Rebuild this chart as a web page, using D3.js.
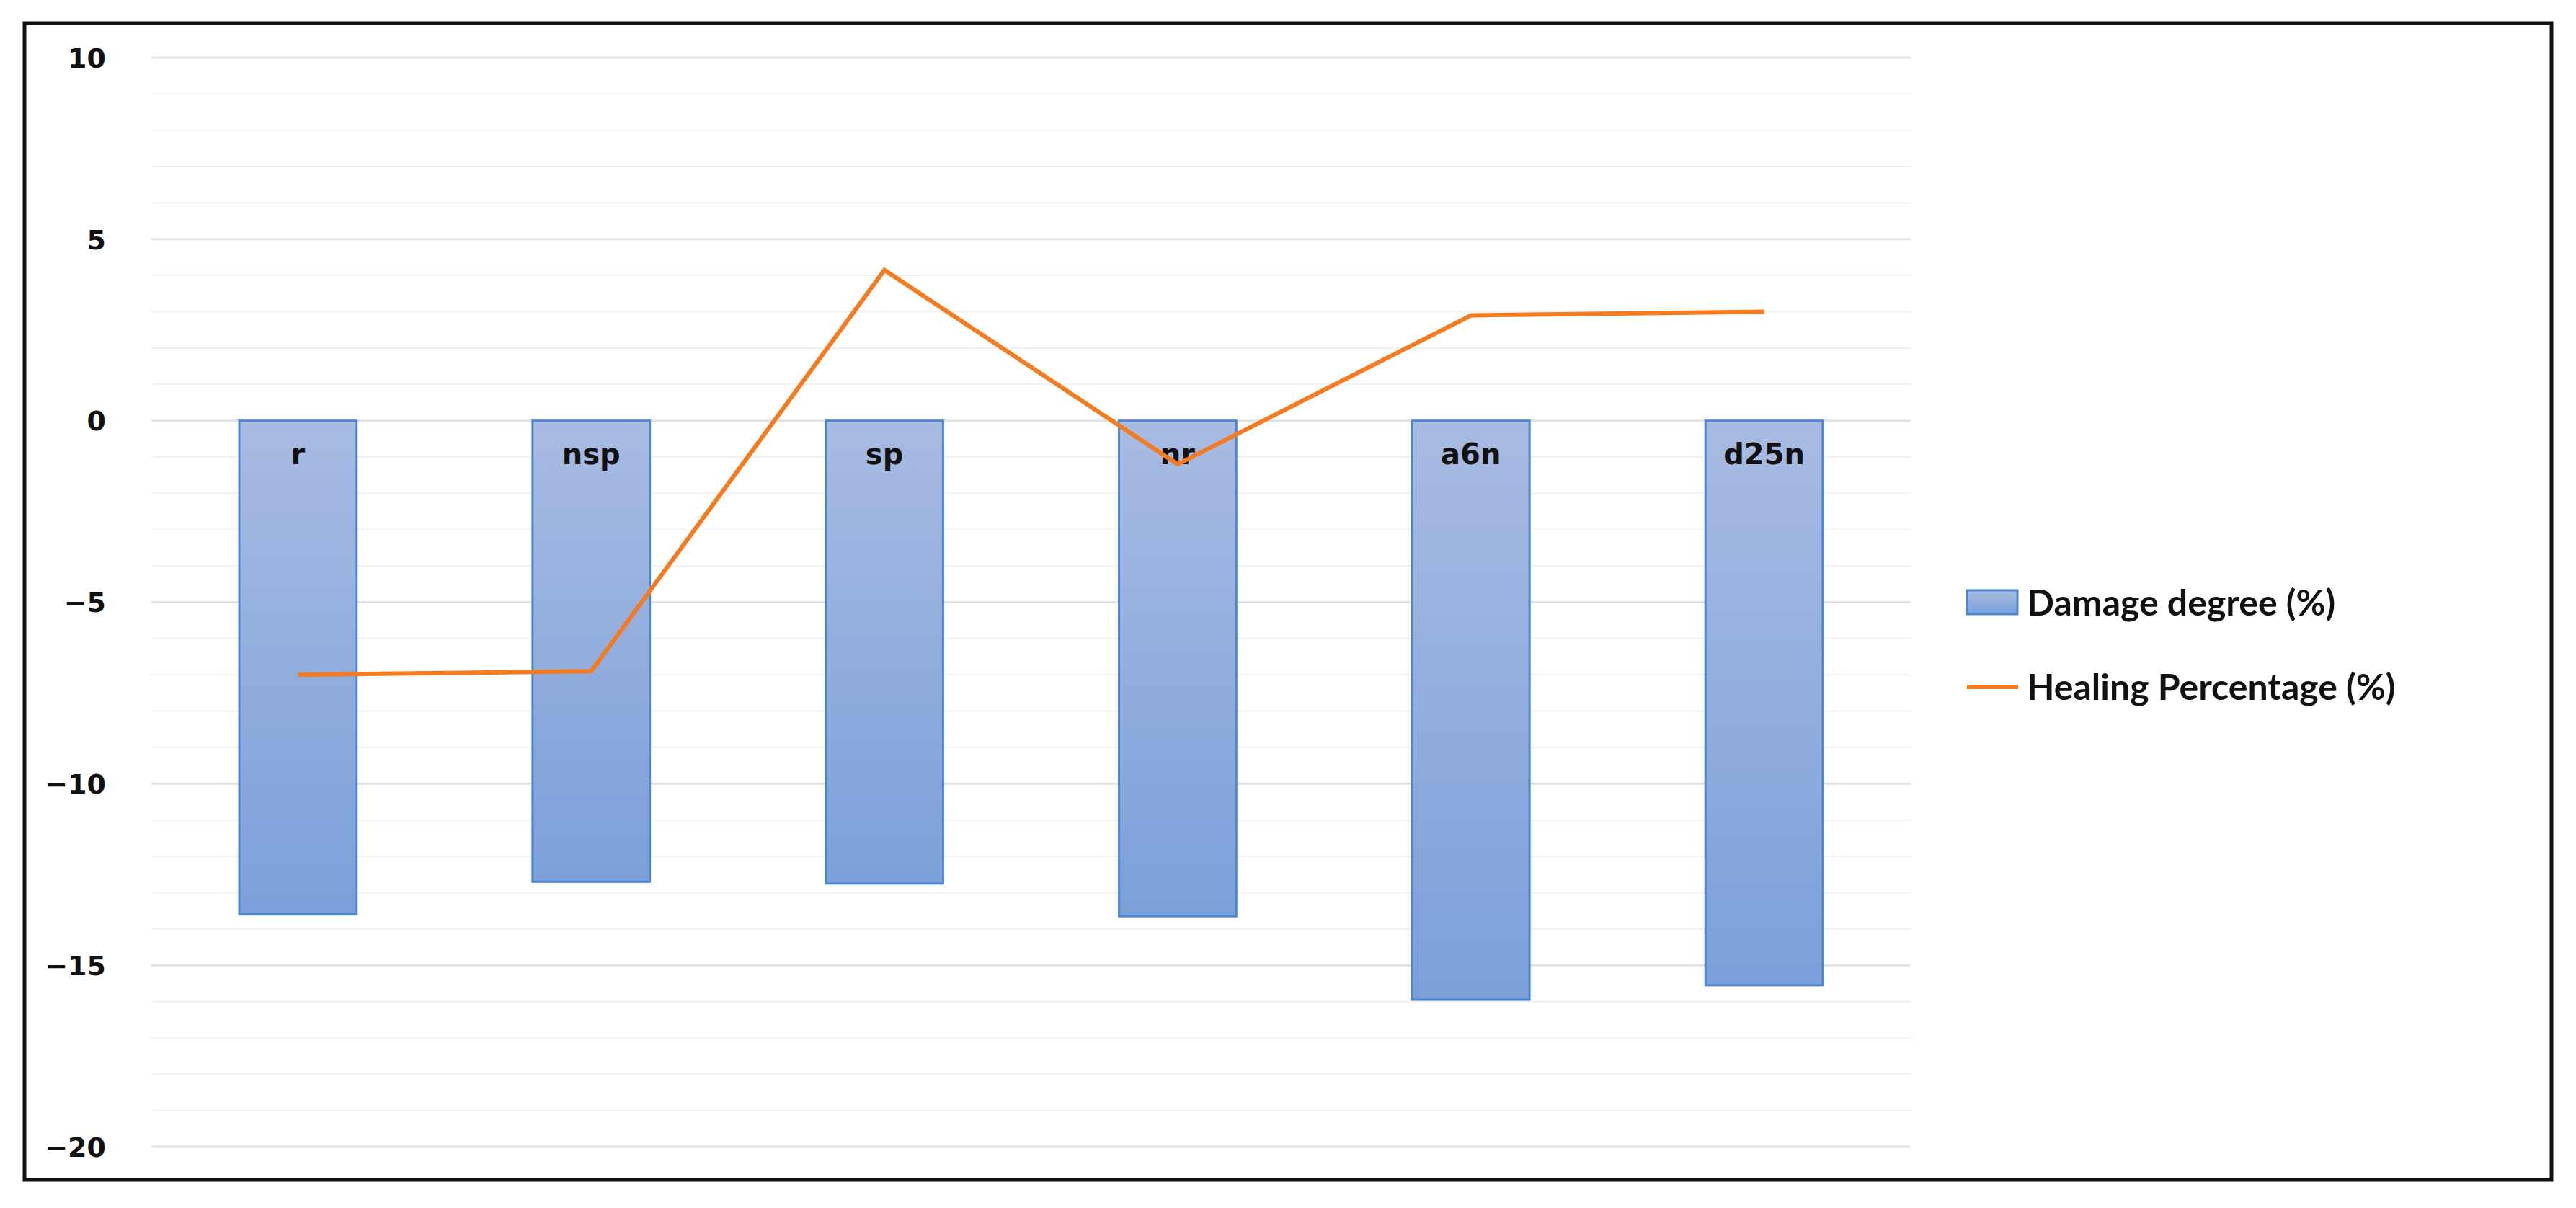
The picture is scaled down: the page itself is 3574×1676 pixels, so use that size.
<!DOCTYPE html>
<html><head><meta charset="utf-8">
<script src="https://cdn.jsdelivr.net/npm/d3@7"></script>
<style>body{margin:0;background:#fff}</style>
</head><body>
<script>
const categories = ["r","nsp","sp","nr","a6n","d25n"];
const damage = [-13.6,-12.7,-12.75,-13.65,-15.95,-15.55];
const healing = [-7.0,-6.9,4.15,-1.2,2.9,3.0];
const yTicks = [10,5,0,-5,-10,-15,-20];
const legendLabels = ["Damage degree (%)","Healing Percentage (%)"];

const W=3574,H=1676;
const svg=d3.select("body").append("svg").attr("width",W).attr("height",H);
const defs=svg.append("defs");
const g=defs.append("linearGradient").attr("id","bg").attr("x1",0).attr("y1",0).attr("x2",0).attr("y2",1);
g.append("stop").attr("offset","0%").attr("stop-color","#a8bbe2");
g.append("stop").attr("offset","100%").attr("stop-color","#7ba0d9");
const lg=defs.append("linearGradient").attr("id","lg").attr("x1",0).attr("y1",0).attr("x2",0).attr("y2",1);
lg.append("stop").attr("offset","0%").attr("stop-color","#a8bbe2");
lg.append("stop").attr("offset","100%").attr("stop-color","#7ba0d9");

svg.append("rect").attr("x",34).attr("y",32).attr("width",3506).attr("height",1605)
  .attr("fill","#fff").attr("stroke","#111").attr("stroke-width",5);

const x=d3.scaleBand().domain(categories).range([210,2651]).paddingInner(0.6).paddingOuter(0.3);
const y=d3.scaleLinear().domain([-20,10]).range([1591,80]);

// minor gridlines
svg.append("g").selectAll("line").data(d3.range(-20,11,1)).join("line")
  .attr("x1",210).attr("x2",2651).attr("y1",d=>y(d)).attr("y2",d=>y(d))
  .attr("stroke",d=>d%5===0?"#e2e2e2":"#f1f1f1").attr("stroke-width",d=>d%5===0?3:2);

const ax=svg.append("g").attr("transform","translate(150,0)").call(d3.axisLeft(y).tickValues(yTicks).tickSize(0));
ax.select(".domain").remove();
ax.selectAll("text").attr("font-family","DejaVu Sans").attr("font-weight","bold").attr("font-size",38).attr("fill","#111").attr("dy","0.35em");

svg.append("g").selectAll("rect").data(categories).join("rect")
  .attr("x",d=>x(d)).attr("width",x.bandwidth())
  .attr("y",y(0)).attr("height",(d,i)=>y(damage[i])-y(0))
  .attr("fill","url(#bg)").attr("stroke","#4a86d4").attr("stroke-width",3);

svg.append("g").selectAll("text").data(categories).join("text")
  .attr("x",d=>x(d)+x.bandwidth()/2).attr("y",y(-1.2)).attr("text-anchor","middle")
  .attr("font-family","DejaVu Sans").attr("font-weight","bold").attr("font-size",40).attr("fill","#111").text(d=>d);

const line=d3.line().x((d,i)=>x(categories[i])+x.bandwidth()/2).y(d=>y(d));
svg.append("path").datum(healing).attr("d",line).attr("fill","none").attr("stroke","#f47b20").attr("stroke-width",6);

// legend
svg.append("rect").attr("x",2729).attr("y",819).attr("width",70).attr("height",33).attr("fill","url(#lg)").attr("stroke","#4a86d4").attr("stroke-width",3);
svg.append("line").attr("x1",2729).attr("x2",2800).attr("y1",953).attr("y2",953).attr("stroke","#f47b20").attr("stroke-width",6);
svg.selectAll(".lt").data(legendLabels).join("text").attr("class","lt")
  .attr("x",2812).attr("y",(d,i)=>i===0?836:953).attr("dy","0.35em")
  .attr("font-family","Lato").attr("font-weight","bold").attr("font-size",50).attr("fill","#111").text(d=>d);
</script>
</body></html>
